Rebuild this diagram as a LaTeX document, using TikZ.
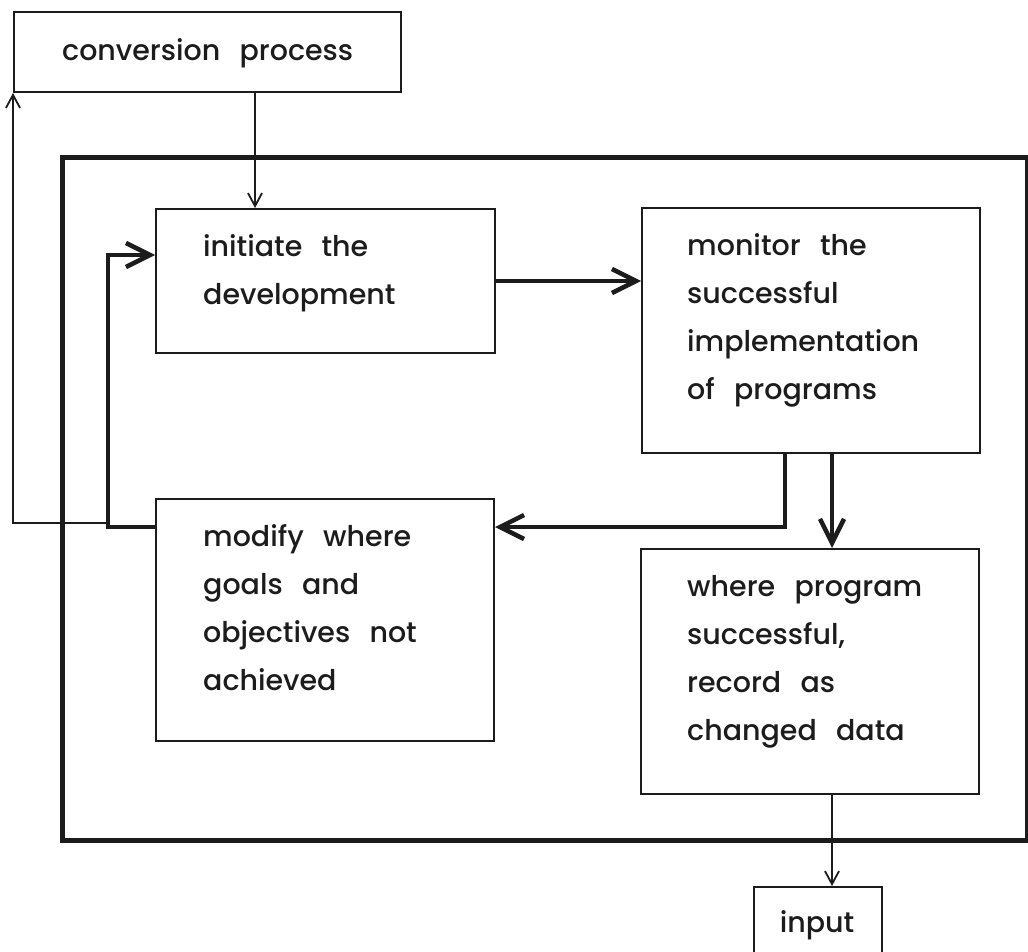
\documentclass[tikz,border=0pt]{standalone}
\usepackage{fontspec}
\setmainfont{Poppins}[UprightFont={* Medium}, WordSpace=2.6]
\usetikzlibrary{arrows.meta,calc}
\definecolor{ink}{HTML}{1C1C1C}
\tikzset{
  box/.style={draw=ink, line width=2pt, inner sep=0pt, anchor=north west},
  frame/.style={draw=ink, line width=5pt, inner sep=0pt, anchor=north west},
  lettering/.style={anchor=north west, inner sep=0pt, align=left, text=ink,
    font=\fontsize{28.5}{48}\selectfont},
  thinline/.style={draw=ink, line width=1.6pt},
  thickline/.style={draw=ink, line width=4pt},
  thintip/.style={-{Straight Barb[length=13pt,width=14pt,line width=1.8pt]}},
  thicktip/.style={-{Straight Barb[length=24pt,width=24pt,line width=4.5pt]}},
}
\newcommand{\firstline}{\rule{0pt}{22pt}}
\begin{document}
\begin{tikzpicture}[x=1pt,y=-1pt]
\useasboundingbox (0,0) rectangle (1028,952);
\clip (0,0) rectangle (1028,952);

% boxes
\node[box, minimum width=387pt, minimum height=80pt] (conv) at (13,11) {};
\node[frame, minimum width=965pt, minimum height=683pt] (frame) at (60,155) {};
\node[box, minimum width=339pt, minimum height=144pt] (init) at (155,208) {};
\node[box, minimum width=338pt, minimum height=245pt] (mon) at (641,207) {};
\node[box, minimum width=338pt, minimum height=242pt] (mod) at (155,498) {};
\node[box, minimum width=338pt, minimum height=245pt] (succ) at (640,548) {};
\node[box, minimum width=128pt, minimum height=100pt] (inp) at (753,886) {};

% lettering
\node[lettering] (convtxt) at ($(conv.north west)+(49,27)$) {\firstline conversion process};
\node[lettering] (inittxt) at ($(init.north west)+(48,26)$) {\firstline initiate the\\development};
\node[lettering] (montxt) at ($(mon.north west)+(46,26)$) {\firstline monitor the\\successful\\implementation\\of programs};
\node[lettering] (modtxt) at ($(mod.north west)+(48,26)$) {\firstline modify where\\goals and\\objectives not\\achieved};
\node[lettering] (succtxt) at ($(succ.north west)+(47,26)$) {\firstline where program\\successful,\\record as\\changed data};
\node[lettering, anchor=base] (inptxt) at (817,932) {input};

% routing columns and rows
\coordinate (xa) at (255,0);
\coordinate (xb) at (785,0);
\coordinate (xc) at (832,0);
\coordinate (xd) at (108,0);
\coordinate (ya) at (0,527);
\coordinate (yb) at (0,255);
\coordinate (yc) at (0,523);

% connectors
\draw[thinline, thintip] (conv.south -| xa) -- (init.north -| xa);
\draw[thickline, thicktip] (init.east) -- (init.east -| mon.west);
\draw[thickline, thicktip] (mon.south -| xc) -- (succ.north -| xc);
\draw[thickline, thicktip] (mon.south -| xb) -- (xb |- ya) -- (mod.east |- ya);
\draw[thickline, thicktip] (mod.west |- ya) -- (xd |- ya) -- (xd |- yb) -- (init.west |- yb);
\draw[thinline, thintip] (xd |- yc) -- (conv.west |- yc) -- (conv.south west);
\draw[thinline, thintip] (succ.south -| xc) -- (inp.north -| xc);
\end{tikzpicture}
\end{document}
